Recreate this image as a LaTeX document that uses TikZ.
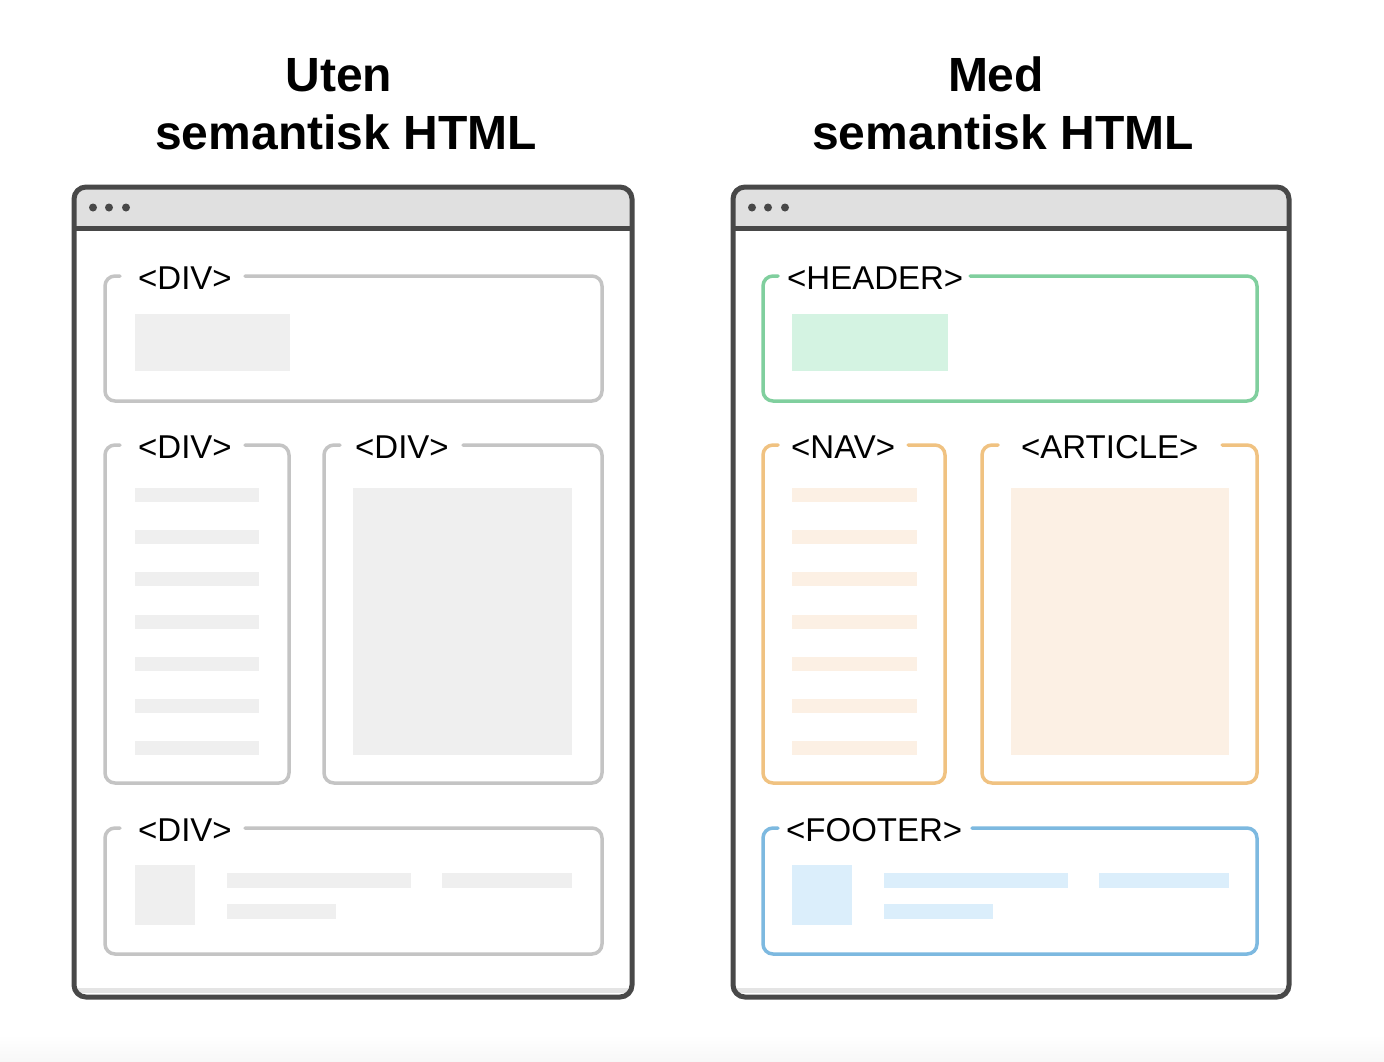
\documentclass[tikz,border=0pt]{standalone}
\usepackage{fontspec}
\setmainfont{Liberation Sans}
\definecolor{framegray}{HTML}{484848}
\definecolor{barfill}{HTML}{E0E0E0}
\definecolor{stripgray}{HTML}{E4E4E4}
\definecolor{boxgray}{HTML}{C4C4C4}
\definecolor{grayfill}{HTML}{EFEFEF}
\definecolor{hdrgreen}{HTML}{80CF9E}
\definecolor{hdrfill}{HTML}{D4F3E2}
\definecolor{navorange}{HTML}{F0C281}
\definecolor{navfill}{HTML}{FCF0E4}
\definecolor{ftrblue}{HTML}{7DB9E0}
\definecolor{ftrfill}{HTML}{DBEEFB}

% one browser window: #1 = left edge, #2 = right edge
\newcommand{\browserwin}[2]{%
  \fill[white, rounded corners=12pt] (#1,187) rectangle (#2,997);
  \fill[barfill] (#1,228) [rounded corners=12pt] -- (#1,187) -- (#2,187) [sharp corners] -- (#2,228) -- cycle;
  \draw[framegray, line width=5pt] (#1,228) -- (#2,228);
  \draw[stripgray, line width=5pt] (#1,990) -- (#2,990);
  \foreach \dx in {19,35,52} \fill[framegray] (#1+\dx,207.5) circle (4pt);
  \draw[winframe] (#1,187) rectangle (#2,997);
}

\begin{document}
\begin{tikzpicture}[x=1pt, y=-1pt,
  winframe/.style={draw=framegray, line width=5pt, rounded corners=12pt},
  wbox/.style={line width=3.5pt, rounded corners=10pt, line cap=round},
  tag/.style={anchor=base west, inner sep=0pt, font=\fontsize{33}{40}\selectfont},
  heading/.style={anchor=base, inner sep=0pt, font=\fontsize{48}{58}\selectfont\bfseries}]

\useasboundingbox (0,0) rectangle (1384,1061);
\fill[white] (0,0) rectangle (1384,1061);
\shade[top color=white, bottom color=black!3] (0,1035) rectangle (1384,1061);

% headings
\node[heading] (t1a) at (339,91) {Uten};
\node[heading] (t1b) at (346,149) {semantisk HTML};
\node[heading] (t2a) at (996,91) {Med};
\node[heading] (t2b) at (1003,149) {semantisk HTML};

% ---------- plain div layout ----------
\browserwin{74}{632}

\draw[wbox, boxgray] (245,276) -- (602,276) -- (602,401) -- (105,401) -- (105,276) -- (120,276);
\node[tag] (d1) at (138,289) {<DIV>};
\fill[grayfill] (135,314) rectangle (290,371);

\draw[wbox, boxgray] (245,445) -- (289,445) -- (289,783) -- (105,783) -- (105,445) -- (120,445);
\node[tag] (d2) at (138,458) {<DIV>};
\foreach \yy in {488,530,572,614.5,657,699,741}
  \fill[grayfill] (135,\yy) rectangle (259,\yy+14);

\draw[wbox, boxgray] (463,445) -- (602,445) -- (602,783) -- (324,783) -- (324,445) -- (340,445);
\node[tag] (d3) at (355,458) {<DIV>};
\fill[grayfill] (353,488) rectangle (572,755);

\draw[wbox, boxgray] (245,828) -- (602,828) -- (602,954) -- (105,954) -- (105,828) -- (120,828);
\node[tag] (d4) at (138,841) {<DIV>};
\fill[grayfill] (135,865) rectangle (195,925);
\fill[grayfill] (227,873) rectangle (411,888);
\fill[grayfill] (442,873) rectangle (572,888);
\fill[grayfill] (227,904) rectangle (336,919);

% ---------- semantic layout ----------
\browserwin{733}{1289}

\draw[wbox, hdrgreen] (970,276) -- (1257,276) -- (1257,401) -- (763,401) -- (763,276) -- (778,276);
\node[tag] (hdr) at (787,289) {<HEADER>};
\fill[hdrfill] (792,314) rectangle (948,371);

\draw[wbox, navorange] (908,445) -- (945,445) -- (945,783) -- (763,783) -- (763,445) -- (778,445);
\node[tag] (nav) at (791,458) {<NAV>};
\foreach \yy in {488,530,572,614.5,657,699,741}
  \fill[navfill] (792,\yy) rectangle (917,\yy+14);

\draw[wbox, navorange] (1222,445) -- (1257,445) -- (1257,783) -- (982,783) -- (982,445) -- (998,445);
\node[tag] (art) at (1021,458) {<ARTICLE>};
\fill[navfill] (1011,488) rectangle (1229,755);

\draw[wbox, ftrblue] (972,828) -- (1257,828) -- (1257,954) -- (763,954) -- (763,828) -- (778,828);
\node[tag] (ftr) at (786,841) {<FOOTER>};
\fill[ftrfill] (792,865) rectangle (852,925);
\fill[ftrfill] (884,873) rectangle (1068,888);
\fill[ftrfill] (1099,873) rectangle (1229,888);
\fill[ftrfill] (884,904) rectangle (993,919);

\end{tikzpicture}
\end{document}
